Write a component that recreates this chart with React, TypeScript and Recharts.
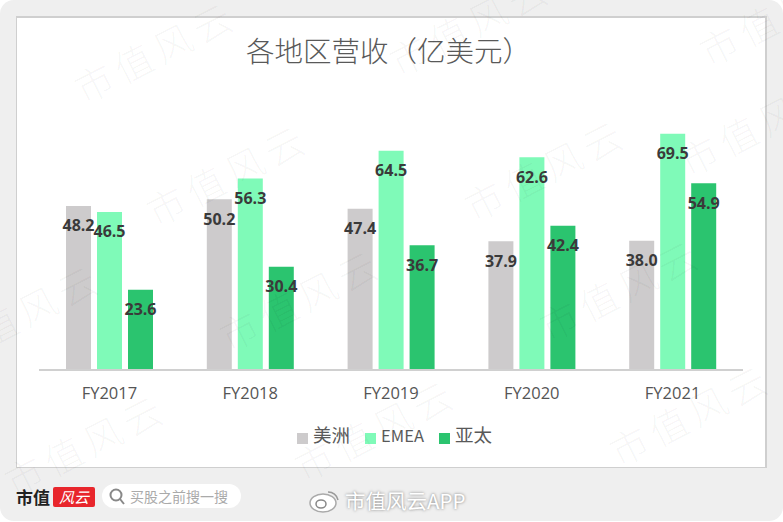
import React from 'react';
import { BarChart, Bar, XAxis, YAxis, Legend, LabelList } from 'recharts';

const years = ['FY2017', 'FY2018', 'FY2019', 'FY2020', 'FY2021'];
const americas = [48.2, 50.2, 47.4, 37.9, 38.0];
const emea = [46.5, 56.3, 64.5, 62.6, 69.5];
const apac = [23.6, 30.4, 36.7, 42.4, 54.9];

const data = years.map((year, i) => ({ year, americas: americas[i], emea: emea[i], apac: apac[i] }));

// centres of the faint diagonal watermarks
const watermarks = [
  [155, 57], [470, 30], [780, 20],
  [227, 180], [545, 175], [760, 130],
  [20, 320], [300, 305], [620, 295],
  [85, 450], [375, 435], [690, 420],
];

const cjk = '"Noto Sans CJK SC", "Open Sans", sans-serif';
const latin = '"Open Sans", "Noto Sans CJK SC", sans-serif';

const formatLabel = (v: number) => v.toFixed(1);

const ValueLabels = () => (
  <LabelList
    position="insideTop"
    offset={14}
    formatter={formatLabel}
    style={{ fill: '#3a3a3a', fontSize: 16, fontWeight: 700, fontFamily: latin }}
  />
);

export default function App() {
  return (
    <div style={{ position: 'absolute', left: 0, top: 0, width: 783, height: 522, background: '#fff', overflow: 'hidden' }}>
      <style>{'body{margin:0}'}</style>
      <div style={{ position: 'absolute', left: 0, top: 0, width: 783, height: 521, background: '#efefef', borderRadius: 14 }} />
      <div style={{ position: 'absolute', left: 16, top: 16, width: 748, height: 449, background: '#fff', border: '1px solid #cfcfcf', borderTopWidth: 2, borderRightWidth: 2 }} />

      <div style={{ position: 'absolute', left: 246, top: 30, whiteSpace: 'nowrap', fontSize: 28.5, lineHeight: '40px', color: '#595959', fontFamily: cjk, fontWeight: 300 }}>
        各地区营收（亿美元）
      </div>

      <div style={{ position: 'absolute', left: 0, top: 0 }}>
        <BarChart
          width={783}
          height={522}
          data={data}
          margin={{ top: 98, right: 40, bottom: 75, left: 39 }}
          barSize={25}
          barGap={6}
        >
          <XAxis
            dataKey="year"
            height={51}
            axisLine={{ stroke: '#d0d0d0', strokeWidth: 2 }}
            tickLine={false}
            tickMargin={11}
            tick={{ fill: '#555555', fontSize: 16.5, fontFamily: latin }}
          />
          <YAxis hide domain={[0, 80]} />
          <Legend
            verticalAlign="bottom"
            align="center"
            iconType="square"
            iconSize={11}
            itemSorter={null}
            wrapperStyle={{ paddingLeft: 11 }}
            formatter={(value: string) => (
              <span style={{ color: '#595959', fontSize: value === 'EMEA' ? 16.5 : 18.5, fontFamily: cjk, marginLeft: 1, marginRight: 5 }}>{value}</span>
            )}
          />
          <Bar dataKey="americas" name="美洲" fill="#cdcbcc" isAnimationActive={false}>
            {ValueLabels()}
          </Bar>
          <Bar dataKey="emea" name="EMEA" fill="#7ffab8" isAnimationActive={false}>
            {ValueLabels()}
          </Bar>
          <Bar dataKey="apac" name="亚太" fill="#2bc46f" isAnimationActive={false}>
            {ValueLabels()}
          </Bar>
        </BarChart>
      </div>

      {/* footer */}
      <div style={{ position: 'absolute', left: 16, top: 485, fontSize: 17, lineHeight: '24px', fontWeight: 700, color: '#222', fontFamily: '"Noto Sans CJK SC", serif' }}>市值</div>
      <div style={{ position: 'absolute', left: 53, top: 487, width: 42, height: 20, background: '#e8262c', borderRadius: 2, color: '#fff', fontSize: 15, lineHeight: '20px', textAlign: 'center', fontStyle: 'italic', fontFamily: cjk }}>风云</div>
      <div style={{ position: 'absolute', left: 102, top: 484, width: 139, height: 24, background: '#fff', borderRadius: 12 }} />
      <svg width={783} height={522} style={{ position: 'absolute', left: 0, top: 0, pointerEvents: 'none' }}>
        <circle cx={116} cy={495} r={5.5} fill="none" stroke="#888" strokeWidth={2} />
        <line x1={120} y1={499} x2={124} y2={504} stroke="#888" strokeWidth={2} />
        <ellipse cx={323} cy={503} rx={13} ry={9} fill="#fff" stroke="#aaa" strokeWidth={1.5} />
        <ellipse cx={321} cy={504} rx={5} ry={4} fill="none" stroke="#888" strokeWidth={1.5} />
        <path d="M328 492 a10 10 0 0 1 10 8" fill="none" stroke="#999" strokeWidth={1.5} />
        {watermarks.map(([x, y]) => (
          <text
            key={`${x}-${y}`}
            x={x + 3}
            y={y}
            textAnchor="middle"
            dominantBaseline="middle"
            transform={`rotate(-27 ${x} ${y})`}
            fontSize={38}
            letterSpacing={6}
            fontWeight={300}
            fontFamily={cjk}
            fill="rgba(0,0,0,0.04)"
          >
            市值风云
          </text>
        ))}
      </svg>
      <div style={{ position: 'absolute', left: 130, top: 486, fontSize: 14, lineHeight: '20px', color: '#aaaaaa', fontFamily: cjk }}>买股之前搜一搜</div>
      <div style={{ position: 'absolute', left: 345, top: 487, fontSize: 20.5, lineHeight: '26px', color: '#fff', textShadow: '0 0 3px #777', fontFamily: cjk }}>市值风云APP</div>
    </div>
  );
}
